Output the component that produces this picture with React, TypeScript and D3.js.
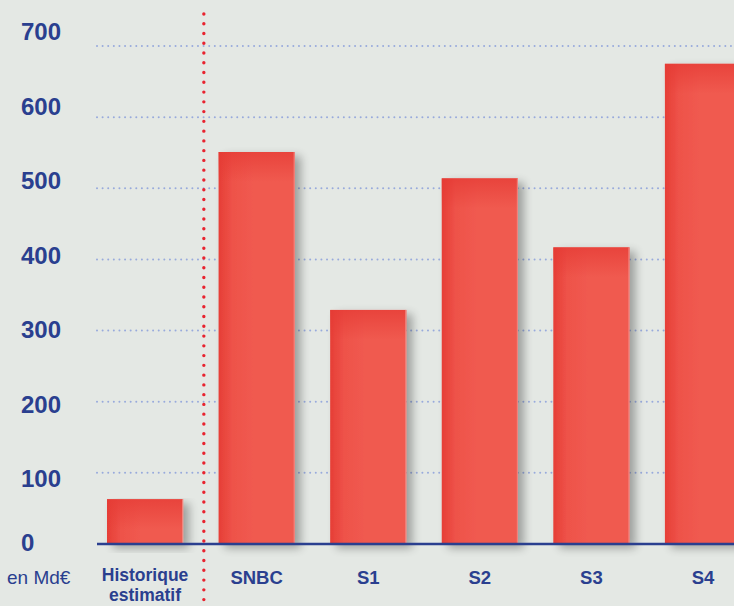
import React from "react";
import * as d3 from "d3";

const categories = ["Historique|estimatif", "SNBC", "S1", "S2", "S3", "S4"];
const values = [63, 551, 329, 514, 417, 675];
const yTicks = [0, 100, 200, 300, 400, 500, 600, 700];
const unitLabel = "en Md€";

const W = 734;
const H = 606;
const NAVY = "#2a3f8f";
const FONT = "'Liberation Sans', Arial, Helvetica, sans-serif";

export default function App() {
  const y = d3.scaleLinear().domain([0, 700]).range([544, 46]);
  const yLabel = d3.scaleLinear().domain([0, 700]).range([553.2, 31.5]);
  const x = d3
    .scaleBand<string>()
    .domain(categories)
    .range([107, 741])
    .paddingInner(0.318)
    .paddingOuter(0);
  const bw = x.bandwidth();
  const sepX = (x(categories[0])! + bw + x(categories[1])!) / 2 + 3;

  return (
    <div style={{ position: "fixed", left: 0, top: 0, width: W, height: H }}>
      <svg width={W} height={H} style={{ display: "block", background: "#e4e8e4" }}>
        <defs>
          <linearGradient id="barGrad" x1="0" x2="1" y1="0" y2="0">
            <stop offset="0%" stopColor="#e63e36" />
            <stop offset="18%" stopColor="#ee5249" />
            <stop offset="45%" stopColor="#f05a50" />
            <stop offset="100%" stopColor="#f05a4f" />
          </linearGradient>
          <linearGradient id="barTop" x1="0" x2="0" y1="0" y2="1">
            <stop offset="0%" stopColor="#e53a34" stopOpacity="0.7" />
            <stop offset="100%" stopColor="#e53a34" stopOpacity="0" />
          </linearGradient>
          <filter id="shadow" x="-20%" y="-10%" width="150%" height="130%">
            <feGaussianBlur in="SourceAlpha" stdDeviation="5" />
            <feOffset dx="6" dy="4" result="ob" />
            <feComponentTransfer>
              <feFuncA type="linear" slope="0.32" />
            </feComponentTransfer>
            <feMerge>
              <feMergeNode />
              <feMergeNode in="SourceGraphic" />
            </feMerge>
          </filter>
        </defs>

        {/* gridlines */}
        {yTicks
          .filter((t) => t > 0)
          .map((t) => (
            <line
              key={"g" + t}
              x1={97}
              x2={W}
              y1={y(t)}
              y2={y(t)}
              stroke="#98aadc"
              strokeWidth={2}
              strokeDasharray="0.01 5.6"
              strokeLinecap="round"
            />
          ))}

        {/* bars */}
        {categories.map((c, i) => {
          const bx = x(c)!;
          const by = y(values[i]);
          const bh = y(0) - by;
          return (
            <g key={"b" + c}>
              <rect x={bx} y={by} width={bw} height={bh} fill="url(#barGrad)" filter="url(#shadow)" />
              <rect x={bx} y={by} width={bw} height={Math.min(30, bh)} fill="url(#barTop)" />
              <line x1={bx + bw - 0.5} x2={bx + bw - 0.5} y1={by} y2={y(0)} stroke="#f28a84" strokeWidth={1} />
            </g>
          );
        })}

        {/* baseline */}
        <line x1={97} x2={W} y1={y(0)} y2={y(0)} stroke={NAVY} strokeWidth={2.4} />

        {/* separator */}
        <line
          x1={sepX}
          x2={sepX}
          y1={14}
          y2={H + 5}
          stroke="#e8232f"
          strokeWidth={3.4}
          strokeDasharray="0.01 9.75"
          strokeLinecap="round"
        />

        {/* y labels */}
        {yTicks.map((t) => (
          <text
            key={"yl" + t}
            x={21}
            y={(t === 0 ? y(0) - 2 : yLabel(t)) + 8.5}
            fill={NAVY}
            fontFamily={FONT}
            fontWeight="bold"
            fontSize={24}
          >
            {t}
          </text>
        ))}

        {/* x labels */}
        <text x={7} y={584} fill={NAVY} fontFamily={FONT} fontSize={19}>
          {unitLabel}
        </text>
        {categories.map((c) => {
          const lines = c.split("|");
          const cx = x(c)! + bw / 2;
          return (
            <text
              key={"xl" + c}
              x={cx}
              y={lines.length > 1 ? 581 : 584}
              textAnchor="middle"
              fill={NAVY}
              fontFamily={FONT}
              fontWeight="bold"
              fontSize={lines.length > 1 ? 17.5 : 18.5}
            >
              {lines.map((l, k) => (
                <tspan key={k} x={cx} dy={k === 0 ? 0 : 19.8}>
                  {l}
                </tspan>
              ))}
            </text>
          );
        })}
      </svg>
    </div>
  );
}
